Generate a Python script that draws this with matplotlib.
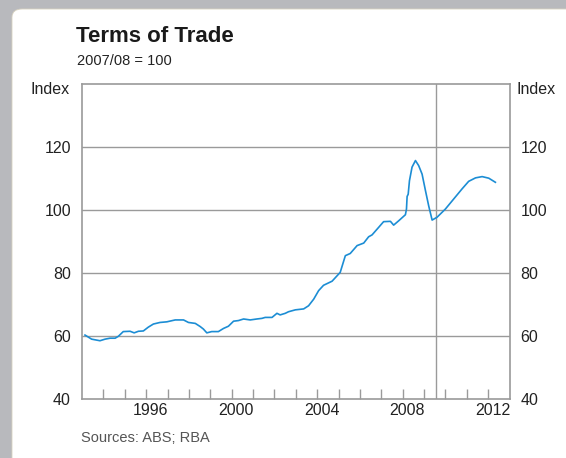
import matplotlib.pyplot as plt
from matplotlib.patches import FancyBboxPatch

plt.rcParams['font.family'] = ['Liberation Sans', 'DejaVu Sans']

# Terms of trade, index 2007/08 = 100
anio = [1993.14, 1993.45, 1993.84, 1994.08, 1994.31, 1994.55, 1994.70, 1994.93,
        1995.25, 1995.44, 1995.64, 1995.87, 1996.10, 1996.34, 1996.65, 1996.97,
        1997.36, 1997.75, 1997.98, 1998.30, 1998.53, 1998.68, 1998.84, 1999.07,
        1999.38, 1999.62, 1999.85, 2000.09, 2000.32, 2000.56, 2000.87, 2001.18,
        2001.42, 2001.57, 2001.89, 2002.12, 2002.27, 2002.51, 2002.66, 2002.98,
        2003.37, 2003.60, 2003.84, 2004.07, 2004.30, 2004.70, 2005.08, 2005.32,
        2005.55, 2005.87, 2006.18, 2006.41, 2006.57, 2006.88, 2007.11, 2007.43,
        2007.58, 2007.82, 2008.13, 2008.18, 2008.21, 2008.26, 2008.32, 2008.44,
        2008.60, 2008.75, 2008.91, 2009.07, 2009.22, 2009.38, 2009.61, 2010.00,
        2010.39, 2010.78, 2011.09, 2011.41, 2011.72, 2012.03, 2012.34]
indice = [60.3, 59.0, 58.5, 59.0, 59.3, 59.3, 59.9, 61.4,
          61.5, 61.0, 61.5, 61.6, 62.8, 63.8, 64.3, 64.5,
          65.1, 65.1, 64.3, 64.0, 63.0, 62.2, 61.0, 61.4,
          61.4, 62.4, 63.1, 64.7, 64.9, 65.4, 65.1, 65.4,
          65.6, 65.9, 65.9, 67.2, 66.7, 67.2, 67.7, 68.3,
          68.6, 69.6, 71.7, 74.4, 76.1, 77.4, 80.2, 85.5,
          86.2, 88.7, 89.5, 91.5, 92.1, 94.5, 96.3, 96.4,
          95.2, 96.6, 98.5, 100.3, 104.3, 105.0, 109.3, 113.6,
          115.7, 114.1, 111.4, 106.1, 101.3, 96.8, 97.7, 100.3,
          103.5, 106.7, 109.1, 110.2, 110.6, 110.1, 108.8]

anios_tick = list(range(1994, 2013))
anios_label = [1996, 2000, 2004, 2008, 2012]
y_ticks = [40, 60, 80, 100, 120]
linea_vertical = 2009.58

gris = '#9a9a9a'
azul = '#1c8dd4'

fig = plt.figure(figsize=(5.66, 4.58), dpi=100)
fig.patch.set_facecolor('#b8b9bd')

# panel blanco con esquina redondeada
panel = FancyBboxPatch((12 / 566, 0 - 0.05), 1.2, 1 - 9 / 458 + 0.05,
                       boxstyle='round,pad=0,rounding_size=0.018',
                       transform=fig.transFigure, facecolor='white',
                       edgecolor='#d8d2c0', linewidth=0.6, zorder=-5)
fig.patches.append(panel)

ax = fig.add_axes([82 / 566, 1 - 399 / 458, (509.5 - 82) / 566, (399 - 84) / 458])
ax.plot(anio, indice, color=azul, linewidth=1.2, zorder=3)

ax.set_xlim(1993.0, 2013.0)
ax.set_ylim(40, 140)

for v in y_ticks[1:]:
    ax.axhline(v, color=gris, linewidth=1.0, zorder=1)
ax.axvline(linea_vertical, color=gris, linewidth=1.0, zorder=1)

for s in ax.spines.values():
    s.set_color(gris)
    s.set_linewidth(1.2)

ax.set_xticks(anios_tick)
ax.set_xticklabels([])
ax.tick_params(axis='x', which='major', direction='in', length=7, color=gris, width=1.0)
ax.set_xticks([a + 0.22 for a in anios_label], minor=True)
ax.set_xticklabels([str(a) for a in anios_label], minor=True)
ax.tick_params(axis='x', which='minor', length=0, labelsize=11.5, colors='#222222', pad=3)

ax.set_yticks(y_ticks)
ax.tick_params(axis='y', length=0, labelsize=11.5, labelcolor='#222222',
               left=True, right=True, labelleft=True, labelright=True, pad=8)

fig.text(30 / 566, 1 - 89 / 458, 'Index', fontsize=11.5, color='#222222', va='center')
fig.text(517 / 566, 1 - 89 / 458, 'Index', fontsize=11.5, color='#222222', va='center')

fig.text(76 / 566, 1 - 37 / 458, 'Terms of Trade', fontsize=16, fontweight='bold',
         color='#1a1a1a', va='center')
fig.text(77 / 566, 1 - 61 / 458, '2007/08 = 100', fontsize=10.5, color='#222222', va='center')
fig.text(81 / 566, 1 - 438 / 458, 'Sources: ABS; RBA', fontsize=10.5, color='#555555', va='center')

fig.savefig('out.png', dpi=100, facecolor=fig.get_facecolor())
